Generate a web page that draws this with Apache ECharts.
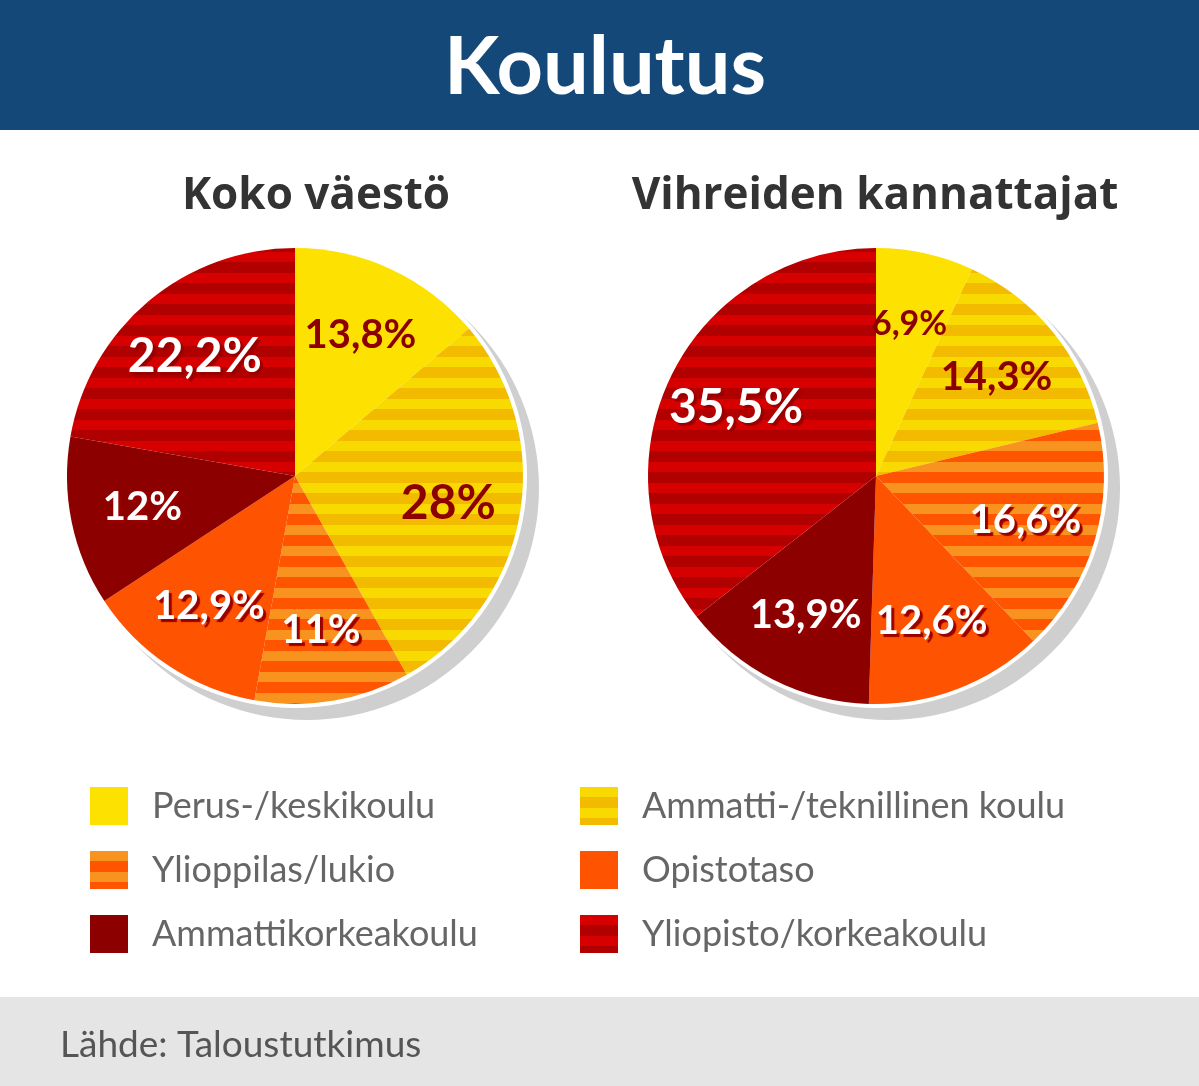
<!DOCTYPE html>
<html>
<head>
<meta charset="utf-8">
<script src="https://cdn.jsdelivr.net/npm/echarts@6/dist/echarts.min.js"></script>
<style>
  html, body { margin: 0; padding: 0; background: #fff; }
  #chart { width: 1199px; height: 1086px; }
</style>
</head>
<body>
<div id="chart"></div>
<script>
// data
var categories = ['Perus-/keskikoulu', 'Ammatti-/teknillinen koulu', 'Ylioppilas/lukio',
                  'Opistotaso', 'Ammattikorkeakoulu', 'Yliopisto/korkeakoulu'];
var kokoVaesto = [13.8, 28, 11, 12.9, 12, 22.2];
var vihreat = [6.9, 14.3, 16.6, 12.6, 13.9, 35.5];
var pieTitles = ['Koko väestö', 'Vihreiden kannattajat'];

// colours: [stripe A, stripe B] (same twice = plain)
var palette = [
  ['#fde100', '#fde100'],
  ['#f8d900', '#f2bb00'],
  ['#f7931e', '#ff5500'],
  ['#fe5300', '#fe5300'],
  ['#8c0000', '#8c0000'],
  ['#d60000', '#b00000']
];
var darkLabel = [true, true, false, false, false, false];

function stripes(c) {
  if (c[0] === c[1]) return c[0];
  var cv = document.createElement('canvas');
  cv.width = 4; cv.height = 21;
  var ctx = cv.getContext('2d');
  ctx.fillStyle = c[1]; ctx.fillRect(0, 0, 4, 21);
  ctx.fillStyle = c[0]; ctx.fillRect(0, 0, 4, 10);
  return { image: cv, repeat: 'repeat' };
}
var fills = palette.map(stripes);

var myChart = echarts.init(document.getElementById('chart'));

var R = 228;
var centers = [[295, 476], [876, 476]];
var font = 'Lato, "Open Sans", sans-serif';

// bigger slices get bigger numbers, the tiny one a smaller one
function labelSize(v) {
  if (v >= 20) return 48;
  if (v < 8) return 34;
  return 40;
}

var series = [];
[kokoVaesto, vihreat].forEach(function (vals, k) {
  var c = centers[k];
  // grey shadow disc
  series.push({
    type: 'pie', silent: true, z: 1,
    center: [c[0] + 12, c[1] + 12], radius: [0, R + 4],
    label: { show: false }, labelLine: { show: false },
    itemStyle: { color: '#cfcfcf' },
    data: [{ value: 1, name: '' }]
  });
  // white ring
  series.push({
    type: 'pie', silent: true, z: 1,
    center: c, radius: [0, R + 4],
    label: { show: false }, labelLine: { show: false },
    itemStyle: { color: '#ffffff' },
    data: [{ value: 1, name: '' }]
  });
});
[kokoVaesto, vihreat].forEach(function (vals, k) {
  series.push({
    name: pieTitles[k], type: 'pie', z: 2,
    center: centers[k], radius: [0, R],
    startAngle: 90, clockwise: true,
    label: { show: false }, labelLine: { show: false },
    itemStyle: { borderWidth: 0 },
    emphasis: { disabled: true },
    data: vals.map(function (v, i) {
      return { value: v, name: categories[i], itemStyle: { color: fills[i] } };
    })
  });
});
[kokoVaesto, vihreat].forEach(function (vals, k) {
  series.push({
    type: 'pie', z: 3, silent: true,
    center: centers[k], radius: [R * 0.34, R],
    startAngle: 90, clockwise: true,
    itemStyle: { color: 'transparent', borderWidth: 0 },
    labelLine: { show: false },
    emphasis: { disabled: true },
    label: {
      show: true, position: 'inside',
      fontFamily: font, fontWeight: 'bold', fontStyle: 'normal',
      formatter: function (p) { return String(p.value).replace('.', ',') + '%'; }
    },
    data: vals.map(function (v, i) {
      var lab = darkLabel[i] ? { color: '#8c0000' } :
        { color: '#ffffff', textShadowColor: '#9a0000', textShadowBlur: 1,
          textShadowOffsetX: 3, textShadowOffsetY: 3 };
      lab.fontSize = labelSize(v);
      return { value: v, name: categories[i], label: lab };
    })
  });
});

var legendCommon = {
  orient: 'vertical', top: 787, itemWidth: 38, itemHeight: 38, itemGap: 26,
  icon: 'rect', selectedMode: false, padding: 0,
  textStyle: { fontFamily: font, fontSize: 36, color: '#666', padding: [0, 0, 0, 19] }
};

option = {
  backgroundColor: '#ffffff',
  animation: false,
  graphic: [
    { type: 'rect', left: 0, top: 0, z: -10, shape: { width: 1199, height: 130 },
      style: { fill: '#134878' } },
    { type: 'rect', left: 0, top: 997, z: -10, shape: { width: 1199, height: 89 },
      style: { fill: '#e5e5e5' } }
  ],
  title: [
    { text: 'Koulutus', left: 600, top: 22, textAlign: 'center',
      textStyle: { fontFamily: font, fontSize: 81, fontWeight: 'bold', color: '#ffffff' } },
    { text: pieTitles[0], left: 311, top: 169, textAlign: 'center',
      textStyle: { fontFamily: '"Open Sans", sans-serif', fontSize: 44, fontWeight: 'bold', color: '#333333' } },
    { text: pieTitles[1], left: 870, top: 169, textAlign: 'center',
      textStyle: { fontFamily: '"Open Sans", sans-serif', fontSize: 44, fontWeight: 'bold', color: '#333333' } },
    { text: 'Lähde: Taloustutkimus', left: 55, top: 1022,
      textStyle: { fontFamily: font, fontSize: 37, fontWeight: 'normal', color: '#555555' } }
  ],
  legend: [
    Object.assign({ left: 90, data: [categories[0], categories[2], categories[4]] }, legendCommon),
    Object.assign({ left: 580, data: [categories[1], categories[3], categories[5]] }, legendCommon)
  ],
  series: series
};

myChart.setOption(option);
</script>
</body>
</html>
